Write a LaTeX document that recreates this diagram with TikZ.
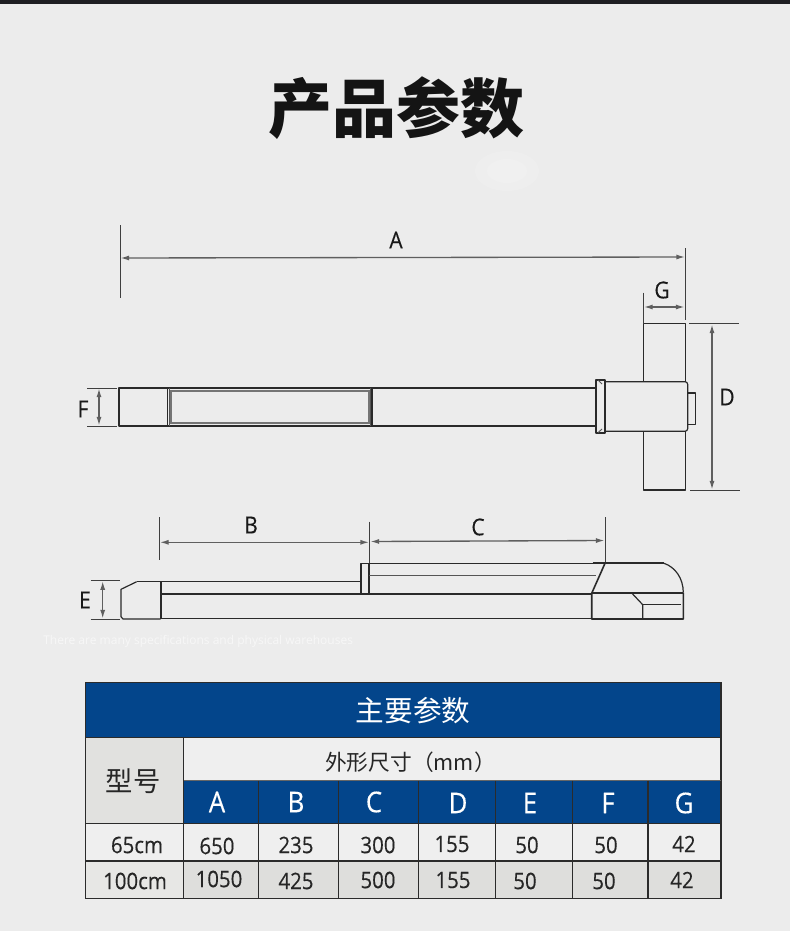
\documentclass[tikz,border=0pt]{standalone}
\usepackage{fontspec}
\setmainfont[FakeStretch=0.9,FakeBold=0.25]{Open Sans}
\newfontfamily\plainlatin{Open Sans}
\newfontfamily\cjk{Noto Sans CJK SC}
\usetikzlibrary{arrows.meta}
\definecolor{pagebg}{HTML}{ECECEC}
\definecolor{topbar}{HTML}{1E1E22}
\definecolor{tblue}{HTML}{03458B}
\definecolor{rowlight}{HTML}{EFEFEF}
\definecolor{rowgray}{HTML}{DEDEDC}
\definecolor{headgray}{HTML}{E1E1DF}
\definecolor{ink}{HTML}{2A2A2A}
\definecolor{tline}{HTML}{2B2B2B}
\tikzset{
  part/.style={draw=ink,line width=0.9pt,line join=round},
  thick part/.style={draw=ink,line width=1.5pt},
  thinpart/.style={draw=ink!80,line width=0.7pt},
  extline/.style={draw=ink!90,line width=0.7pt},
  dimline/.style={draw=ink!75,line width=1pt,{Latex[length=6.5pt,width=3.8pt]}-{Latex[length=6.5pt,width=3.8pt]}},
  dimlabel/.style={font=\fontsize{17.5}{18}\selectfont,text=black!90,inner sep=0pt},
  cellnum/.style={font=\fontsize{17}{18}\selectfont,text=black!85,inner sep=0pt},
  headletter/.style={font=\fontsize{21.5}{22}\selectfont,text=white,inner sep=0pt},
  grid line/.style={draw=tline,line width=0.9pt},
}
\begin{document}
\begin{tikzpicture}[x=0.75pt,y=-0.75pt]
\useasboundingbox (0,0) rectangle (790,931);
\fill[pagebg] (0,0) rectangle (790,931);
\fill[topbar] (0,0) rectangle (790,4);
\fill[white,opacity=0.12] (507,171) ellipse (32 and 20);
\fill[white,opacity=0.12] (507,171) ellipse (20 and 12);

\node[font=\cjk\bfseries\fontsize{48}{48}\selectfont,text=black!92,inner sep=0pt] (title) at (396,108) {产品参数};

% --- top view ---
\draw[part] (119,388) rectangle (596,426);
\draw[part,line width=1.1pt] (167.5,388) rectangle (372,426);
\draw[thinpart,line width=1.1pt,draw=ink!65] (171,391) rectangle (369,423);
\draw[thinpart] (169.5,388) -- (169.5,426) (370.3,388) -- (370.3,426);
\draw[part,rounded corners=2pt] (605,381.7) -- (687.7,381.7) -- (687.7,431.3) -- (605,431.3);
\draw[part] (643.5,381.7) -- (643.5,323.7) -- (685.3,323.7) -- (685.3,381.7);
\draw[part] (643.5,431.3) -- (643.5,490) -- (685.3,490) -- (685.3,431.3);
\draw[part,line width=1.2pt] (596,380) rectangle (605,432.7);
\draw[thinpart] (598,380) -- (602,384) (598,432.7) -- (602,429);
\draw[part] (687.7,393) rectangle (695.7,424.3);

% dimension A
\coordinate (aextL1) at (120,225); \coordinate (aextL2) at (120,298);
\coordinate (aextR1) at (685.3,248); \coordinate (aextR2) at (685.3,320);
\coordinate (adimL) at (120.5,258); \coordinate (adimR) at (685,257);
\draw[extline] (aextL1) -- (aextL2);
\draw[extline] (aextR1) -- (aextR2);
\draw[dimline] (adimL) -- (adimR);
\node[dimlabel] (labA) at (396,240) {A};
% dimension G
\coordinate (gext1) at (643.3,292.7); \coordinate (gext2) at (643.3,324);
\coordinate (gdimL) at (644,307); \coordinate (gdimR) at (684.5,307);
\draw[extline] (gext1) -- (gext2);
\draw[dimline] (gdimL) -- (gdimR);
\node[dimlabel] (labG) at (662,290) {G};
% dimension D
\coordinate (dext1a) at (689,323.7); \coordinate (dext1b) at (739,323.7);
\coordinate (dext2a) at (690,490); \coordinate (dext2b) at (740,490);
\coordinate (ddimT) at (712,324.5); \coordinate (ddimB) at (712,489.5);
\draw[extline] (dext1a) -- (dext1b);
\draw[extline] (dext2a) -- (dext2b);
\draw[dimline] (ddimT) -- (ddimB);
\node[dimlabel] (labD) at (727,397) {D};
% dimension F
\coordinate (fext1a) at (87,388); \coordinate (fext1b) at (117,388);
\coordinate (fext2a) at (87,426); \coordinate (fext2b) at (117,426);
\coordinate (fdimT) at (99,388.5); \coordinate (fdimB) at (99,425.5);
\draw[extline] (fext1a) -- (fext1b);
\draw[extline] (fext2a) -- (fext2b);
\draw[dimline] (fdimT) -- (fdimB);
\node[dimlabel] (labF) at (83,409) {F};

% --- side view ---
\draw[part,line width=0.7pt] (160.7,581.7) -- (136.7,581.7);
\draw[part] (136.7,581.7) -- (121,589.3) -- (121,616.7) -- (123,619) -- (160.7,619);
\draw[thick part] (160.7,581.7) -- (160.7,619);
\draw[part] (160.7,581.7) -- (361,581.7);
\draw[part] (160.7,594) -- (591.7,594);
\draw[part] (160.7,618.6) -- (591.7,618.6);
\draw[part] (361,594) -- (361,563.3) -- (605,563.3);
\draw[part] (369,563.3) -- (369,594);
\draw[thinpart] (369,575) -- (596,575);
\draw[thick part] (592.7,563.3) -- (664,563.3);
\draw[part,line width=1.2pt] (605,563.3) -- (591.7,593.3) -- (591.7,619) -- (683.3,619) -- (683.3,592.7);
\draw[part] (664,563.3) .. controls (675,567) and (683.3,578) .. (683.3,592.7);
\draw[part] (591.7,593) -- (683.3,593);
\draw[part] (631.7,593) -- (642.7,604.7) -- (642.7,619);
\draw[part] (642.7,604.7) -- (681,604.7);

% dimension B
\coordinate (bext1) at (159.3,517); \coordinate (bext2) at (159.3,560);
\coordinate (midext1) at (369.7,521.7); \coordinate (midext2) at (369.7,563);
\coordinate (bdimL) at (160,542.3); \coordinate (bdimR) at (369,542.3);
\draw[extline] (bext1) -- (bext2);
\draw[extline] (midext1) -- (midext2);
\draw[dimline] (bdimL) -- (bdimR);
\node[dimlabel] (labB) at (251,525) {B};
% dimension C
\coordinate (cext1) at (605,517); \coordinate (cext2) at (605,562);
\coordinate (cdimL) at (370.5,541.5); \coordinate (cdimR) at (604.5,540.5);
\draw[extline] (cext1) -- (cext2);
\draw[dimline] (cdimL) -- (cdimR);
\node[dimlabel] (labC) at (478,527) {C};
% dimension E
\coordinate (eext1a) at (90.7,580.7); \coordinate (eext1b) at (120,580.7);
\coordinate (eext2a) at (90.7,619); \coordinate (eext2b) at (120,619);
\coordinate (edimT) at (102.7,581.2); \coordinate (edimB) at (102.7,618.5);
\draw[extline] (eext1a) -- (eext1b);
\draw[extline] (eext2a) -- (eext2b);
\draw[dimline] (edimT) -- (edimB);
\node[dimlabel] (labE) at (85,600) {E};

\node[anchor=west,inner sep=0pt,font=\plainlatin\fontsize{9}{10}\selectfont,text=white!97!black] (faint) at (43,641.5) {There are many specifications and physical warehouses};

% --- table ---
\fill[tblue] (85.7,682.3) rectangle (721,737.7);
\fill[rowlight] (183.3,737.7) rectangle (721,780.7);
\fill[headgray] (85.7,737.7) rectangle (183.3,823.3);
\fill[tblue] (183.3,780.7) rectangle (721,823.3);
\fill[rowlight] (85.7,823.3) rectangle (721,861);
\fill[rowgray] (183.3,861) rectangle (721,898.3);
\fill[headgray!60!rowlight] (85.7,861) rectangle (183.3,898.3);
\draw[grid line,line width=1.1pt] (85.7,682.3) rectangle (721,898.3);
\draw[grid line] (85.7,737.7) -- (721,737.7);
\draw[grid line,draw=black!60] (183.3,780.7) -- (721,780.7);
\draw[grid line] (85.7,823.3) -- (721,823.3);
\draw[grid line] (85.7,861) -- (721,861);
\draw[grid line] (183.3,737.7) -- (183.3,898.3);
\foreach \cx in {258.3,338.3,418.3,495.3,572.7,648}
  \draw[grid line] (\cx,780.7) -- (\cx,898.3);

\node[font=\cjk\fontsize{21.5}{22}\selectfont,text=white,inner sep=0pt] (ttl) at (413,711) {主要参数};
\node[font=\cjk\fontsize{20.5}{21}\selectfont,text=black!85,inner sep=0pt] (model) at (133,781) {型号};
\node[font=\cjk\fontsize{16.3}{17}\selectfont,text=black!85,inner sep=0pt] (size) at (410.5,762) {外形尺寸（mm）};

\node[headletter] (hA) at (217,802) {A};
\node[headletter] (hB) at (296,802) {B};
\node[headletter] (hC) at (374,802) {C};
\node[headletter] (hD) at (458,803) {D};
\node[headletter] (hE) at (530,803) {E};
\node[headletter] (hF) at (608,803) {F};
\node[headletter] (hG) at (684,803) {G};

\node[cellnum] (r1m) at (137,845) {65cm};
\node[cellnum] (r1a) at (217,846) {650};
\node[cellnum] (r1b) at (296,845) {235};
\node[cellnum] (r1c) at (378,845) {300};
\node[cellnum] (r1d) at (452,844) {155};
\node[cellnum] (r1e) at (527,845) {50};
\node[cellnum] (r1f) at (606,845) {50};
\node[cellnum] (r1g) at (684,844) {42};
\node[cellnum] (r2m) at (135,881) {100cm};
\node[cellnum] (r2a) at (219,879) {1050};
\node[cellnum] (r2b) at (296,881) {425};
\node[cellnum] (r2c) at (378,880) {500};
\node[cellnum] (r2d) at (453,880) {155};
\node[cellnum] (r2e) at (525,881) {50};
\node[cellnum] (r2f) at (604,881) {50};
\node[cellnum] (r2g) at (682,880) {42};
\end{tikzpicture}
\end{document}
